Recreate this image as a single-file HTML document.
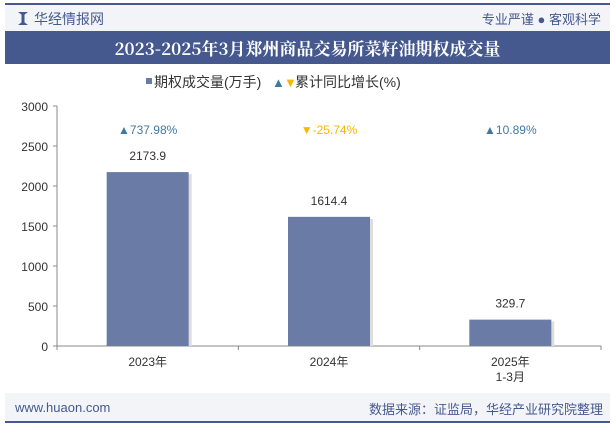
<!DOCTYPE html>
<html><head><meta charset="utf-8"><style>
body{margin:0;width:615px;height:427px;background:#fff;font-family:"Liberation Sans","Noto Sans CJK SC",sans-serif;overflow:hidden;position:relative}
.abs{position:absolute}
</style></head><body>
<div class="abs" style="left:5px;top:3px;width:605px;height:2px;background:#46598f"></div>
<div class="abs" style="left:5px;top:5px;width:605px;height:26px;background:#f2f4f8"></div>
<div class="abs" style="left:18px;top:12px;width:10px;height:13px;background:#46598f;clip-path:polygon(0 0,35% 20%,35% 80%,0 100%,100% 100%,65% 80%,65% 20%,100% 0)"></div>
<div class="abs" style="left:34px;top:9px;font-size:14px;color:#46598f">华经情报网</div>
<div class="abs" style="right:14px;top:9px;font-size:13px;color:#46598f">专业严谨 ● 客观科学</div>
<div class="abs" style="left:5px;top:31px;width:605px;height:33px;background:#46598f;color:#fff;font-family:'Noto Serif CJK SC','Liberation Serif',serif;font-weight:bold;font-size:17px;text-align:center;line-height:33px">2023-2025年3月郑州商品交易所菜籽油期权成交量</div>
<div class="abs" style="left:5px;top:393px;width:605px;height:28px;background:#f2f4f8"></div>
<div class="abs" style="left:15px;top:400px;font-size:13px;color:#46598f">www.huaon.com</div>
<div class="abs" style="right:12px;top:399px;font-size:13px;color:#46598f">数据来源：证监局，华经产业研究院整理</div>
<div class="abs" style="left:5px;top:421px;width:605px;height:2px;background:#46598f"></div>
<svg class="abs" style="left:0;top:0" width="615" height="427" id="chart">
<g font-size="14" fill="#333">
<rect x="146" y="78" width="6" height="6" fill="#6a7ca5"/>
<text x="154" y="87">期权成交量(万手)</text>
<text x="272" y="87" font-size="13" fill="#3e7aa0">▲</text>
<text x="284" y="87" font-size="13" fill="#f5b800">▼</text>
<text x="295" y="87">累计同比增长(%)</text>
</g>
</svg>
<script>
const categories=["2023年","2024年","2025年|1-3月"];
const volumes=[2173.9,1614.4,329.7];
const growth=[737.98,-25.74,10.89];
const yTicks=[0,500,1000,1500,2000,2500,3000];
const svg=document.getElementById('chart');
const NS='http://www.w3.org/2000/svg';
const X0=57,X1=601,Y0=346,Y1=106,YMAX=3000;
const y=v=>Y0-(v/YMAX)*(Y0-Y1);
const band=(X1-X0)/categories.length;
const xc=i=>X0+band*(i+0.5);
function mk(t,a,txt){const e=document.createElementNS(NS,t);for(const k in a)e.setAttribute(k,a[k]);if(txt!=null)e.textContent=txt;svg.appendChild(e);return e;}
let e=mk('line',{x1:X0,y1:Y1,x2:X0,y2:Y0,stroke:'#888'});

e=mk('line',{x1:X0,y1:Y0,x2:X1,y2:Y0,stroke:'#888'});

yTicks.forEach(t=>{
 e=mk('line',{x1:X0-4,y1:y(t),x2:X0,y2:y(t),stroke:'#888'});
 
 e=mk('text',{x:X0-9,y:y(t)+5,'text-anchor':'end','font-size':12,fill:'#333'},t);
 
});
for(let i=0;i<=categories.length;i++){
 e=mk('line',{x1:X0+band*i,y1:Y0,x2:X0+band*i,y2:Y0+4,stroke:'#888'});
 
}
categories.forEach((c,i)=>{
 const bw=82,cx=xc(i);
 e=mk('rect',{x:cx-bw/2+3,y:y(volumes[i])+2,width:bw,height:Y0-y(volumes[i])-2,fill:'#ddd'});
 
 e=mk('rect',{x:cx-bw/2,y:y(volumes[i]),width:bw,height:Y0-y(volumes[i]),fill:'#6a7ca5'});
 
 e=mk('text',{x:cx,y:y(volumes[i])-12,'text-anchor':'middle','font-size':12,fill:'#333'},volumes[i].toFixed(1));
 
 const up=growth[i]>=0;
 e=mk('text',{x:cx,y:134,'text-anchor':'middle','font-size':12,fill:up?'#3e7aa0':'#f5b800'},(up?'▲':'▼')+growth[i].toFixed(2)+'%');
 
 c.split('|').forEach((ln,j)=>{
  e=mk('text',{x:cx,y:366+j*15,'text-anchor':'middle','font-size':12,fill:'#333'},ln);
  
 });
});
</script>
</body></html>
